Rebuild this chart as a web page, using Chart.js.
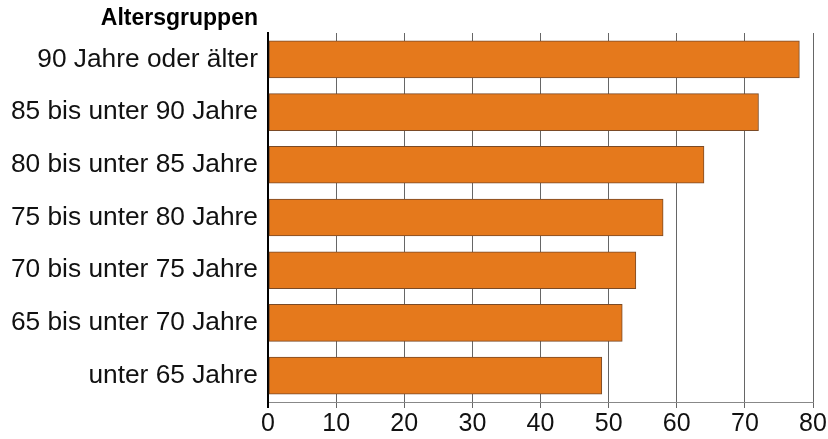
<!DOCTYPE html>
<html>
<head>
<meta charset="utf-8">
<script src="https://cdn.jsdelivr.net/npm/chart.js@4"></script>
<style>
html,body{margin:0;padding:0;background:#fff;}
#wrap{width:828px;height:439px;}
</style>
</head>
<body>
<div id="wrap"><canvas id="c" width="828" height="439"></canvas></div>
<script>
const categories = ["90 Jahre oder älter","85 bis unter 90 Jahre","80 bis unter 85 Jahre","75 bis unter 80 Jahre","70 bis unter 75 Jahre","65 bis unter 70 Jahre","unter 65 Jahre"];
const values = [78, 72, 64, 58, 54, 52, 49];
const xTicks = [0, 10, 20, 30, 40, 50, 60, 70, 80];
const axisTitle = "Altersgruppen";

const titlePlugin = {
  id: 'groupTitle',
  afterDraw(chart) {
    const ctx = chart.ctx;
    ctx.save();
    ctx.font = 'bold 23px "Liberation Sans", Arial, sans-serif';
    ctx.fillStyle = '#000';
    ctx.textAlign = 'right';
    ctx.textBaseline = 'middle';
    ctx.fillText(axisTitle, chart.chartArea.left - 10, 19);
    ctx.restore();
  }
};

new Chart(document.getElementById('c'), {
  type: 'bar',
  data: {
    labels: categories,
    datasets: [{
      data: values,
      backgroundColor: '#E5791C',
      borderColor: '#7a4a26',
      borderWidth: 1,
      borderSkipped: false,
      barThickness: 37
    }]
  },
  options: {
    indexAxis: 'y',
    responsive: false,
    animation: false,
    events: [],
    layout: { padding: { top: 33, right: 15, left: 0, bottom: 0 } },
    plugins: { legend: { display: false }, tooltip: { enabled: false } },
    scales: {
      x: {
        min: 0, max: 80,
        afterBuildTicks(scale) { scale.ticks = xTicks.map(v => ({ value: v })); },
        afterFit(scale) { scale.height = 37; },
        grid: {
          color: (c) => c.index === 0 ? '#000' : '#666',
          lineWidth: (c) => c.index === 0 ? 2 : 1,
          tickLength: 6,
          drawTicks: true
        },
        border: { display: true, color: '#888', width: 1 },
        ticks: {
          color: '#111',
          padding: 1,
          font: { family: '"Liberation Sans", Arial, sans-serif', size: 25 }
        }
      },
      y: {
        afterFit(scale) { scale.width = 268; },
        grid: { display: false, drawTicks: false },
        border: { display: true, color: '#000', width: 2 },
        ticks: {
          color: '#111',
          padding: 10,
          font: { family: '"Liberation Sans", Arial, sans-serif', size: 26.3 }
        }
      }
    }
  },
  plugins: [titlePlugin]
});
</script>
</body>
</html>
